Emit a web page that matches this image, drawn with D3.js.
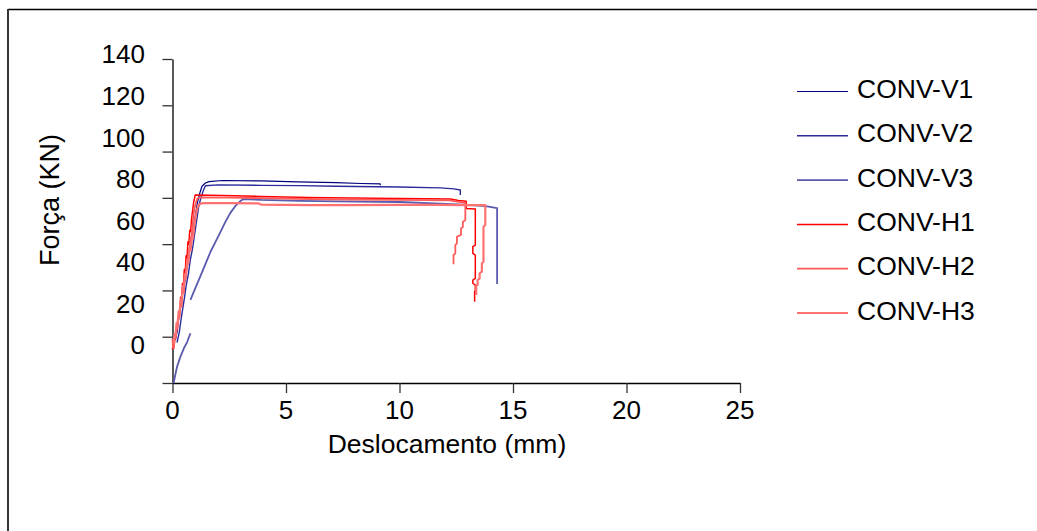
<!DOCTYPE html>
<html>
<head>
<meta charset="utf-8">
<script src="https://cdn.jsdelivr.net/npm/d3@7"></script>
<style>
  html, body { margin: 0; padding: 0; background: #fff; }
  svg { display: block; }
  text { font-family: Arial, "Liberation Sans", sans-serif; fill: #000; }
</style>
</head>
<body>
<svg id="chart" width="1037" height="531"></svg>
<script>
// Load-displacement curves: [displacement (mm), force (kN)]; null marks a gap in the record
const convV1 = [
  [0.13, 18.6], [0.2, 22], [0.26, 27], [0.33, 31], [0.4, 36], [0.48, 41], [0.57, 45],
  [0.64, 50], [0.72, 55], [0.8, 60], [0.9, 66], [1.0, 72], [1.1, 78], [1.2, 82],
  [1.3, 85], [1.45, 86.4], [1.6, 87.0], [2.2, 87.5], [3.9, 87.3], [5.5, 86.9],
  [7.2, 86.6], [8.3, 86.2], [9.15, 86.0], [9.15, 85.5]
];
const convV2 = [
  [0.2, 17.5], [0.3, 22], [0.37, 27], [0.45, 32], [0.53, 37], [0.6, 42], [0.7, 47],
  [0.78, 53], [0.88, 58], [0.97, 64], [1.06, 70], [1.15, 76], [1.25, 80], [1.35, 83],
  [1.45, 85.2], [2.0, 85.6], [3.9, 85.4], [5.6, 85.3], [7.2, 85.0], [10.0, 84.7],
  [11.8, 84.3], [12.4, 83.9], [12.68, 83.4], [12.68, 81.2]
];
const convV3 = [
  [0.05, 0], [0.08, 1.5], [0.2, 7], [0.35, 11.4], [0.5, 15], [0.65, 17.8], [0.79, 21.5],
  null,
  [0.79, 35.9], [1.01, 41.1], [1.23, 46.2], [1.45, 51.4], [1.67, 56.6], [1.89, 60.9],
  [2.11, 65.2], [2.33, 69.6], [2.55, 73.5], [2.77, 76.5], [2.99, 78.6], [3.13, 79.5],
  [3.9, 79.1], [5.6, 78.7], [7.2, 78.5], [10.0, 78.2], [11.8, 77.5], [13.3, 76.8],
  [13.8, 76.4], [14.3, 75.6], [14.3, 42.8]
];
const convH1 = [
  [0.0, 14.5], [0.03, 17.5], [0.08, 17.0], [0.12, 21], [0.16, 20.5], [0.2, 26],
  [0.25, 25.5], [0.28, 31], [0.32, 30], [0.36, 37], [0.4, 36], [0.44, 43], [0.48, 42],
  [0.52, 49], [0.56, 48], [0.6, 55], [0.64, 54], [0.68, 61], [0.72, 60], [0.76, 66],
  [0.8, 65.5], [0.84, 71], [0.88, 74], [0.93, 78], [1.0, 81.2], [2.2, 81.0],
  [3.9, 80.6], [6.0, 80.2], [7.8, 79.9], [10.0, 79.7], [12.24, 79.5], [12.6, 78.9],
  [12.94, 78.5], [12.94, 75.4], [13.34, 75.2], [13.34, 59.6], [13.23, 58.9],
  [13.23, 56.0], [13.34, 55.3], [13.34, 45.2], [13.23, 44.5], [13.23, 43.1],
  [13.34, 42.3], [13.34, 40.2], [13.31, 39.4], [13.31, 35.1]
];
const convH2 = [
  [0.0, 19], [0.02, 15.5], [0.06, 15], [0.1, 20], [0.14, 19.5], [0.18, 24], [0.22, 23.5],
  [0.27, 29], [0.31, 28.5], [0.36, 34], [0.4, 33], [0.45, 40], [0.5, 39], [0.54, 46],
  [0.58, 45], [0.63, 52], [0.67, 51], [0.72, 58], [0.76, 57], [0.8, 63], [0.84, 62.5],
  [0.88, 68], [0.93, 73], [0.98, 76], [1.05, 78.5], [1.1, 79.8], [1.3, 80.2],
  [2.5, 80.1], [3.9, 79.9], [6.0, 79.5], [7.8, 79.3], [10.0, 79.1], [12.2, 78.9],
  [12.6, 78.3], [12.9, 77.8], [12.9, 70.4], [12.79, 69.6], [12.79, 67.4],
  [12.71, 66.8], [12.71, 64.0], [12.53, 63.2], [12.53, 60.4], [12.46, 59.6],
  [12.46, 56.0], [12.38, 55.3], [12.38, 51.3]
];
const convH3 = [
  [0.05, 17], [0.09, 21], [0.13, 20], [0.18, 26], [0.22, 25], [0.27, 31], [0.31, 30],
  [0.36, 36], [0.4, 35.5], [0.46, 42], [0.5, 41], [0.55, 47], [0.6, 46.5], [0.65, 53],
  [0.7, 52], [0.75, 58], [0.8, 57.5], [0.86, 63], [0.9, 62.5], [0.96, 68], [1.02, 72],
  [1.08, 75], [1.15, 77], [1.3, 77.7], [2.5, 77.7], [3.8, 77.6], [3.9, 77.1],
  [6.0, 76.9], [7.8, 76.9], [10.0, 77.0], [11.8, 77.0], [13.0, 76.9], [13.78, 76.9],
  [13.78, 68.3], [13.70, 67.5], [13.70, 52.4], [13.63, 51.7], [13.63, 48.1],
  [13.53, 47.4], [13.53, 45.2], [13.44, 44.5], [13.44, 42.3], [13.38, 42.0], [13.38, 38.0]
];

const seriesNames = ["CONV-V1", "CONV-V2", "CONV-V3", "CONV-H1", "CONV-H2", "CONV-H3"];
const seriesData = [convV1, convV2, convV3, convH1, convH2, convH3];
const seriesColors = ["#000080", "#2b2b9c", "#5a5aae", "#ff0000", "#ff5a5a", "#ff7272"];
const seriesWidths = [1.2, 1.4, 1.8, 1.5, 1.8, 2.2];

const xTicks = [0, 5, 10, 15, 20, 25];
const yTicks = [0, 20, 40, 60, 80, 100, 120, 140];

const svg = d3.select("#chart");

// outer frame (left and top edges visible)
svg.append("line").attr("x1", 8).attr("y1", 9.5).attr("x2", 1037).attr("y2", 9.5)
  .attr("stroke", "#000").attr("stroke-width", 1.5);
svg.append("line").attr("x1", 8).attr("y1", 9).attr("x2", 8).attr("y2", 531)
  .attr("stroke", "#333").attr("stroke-width", 2);

const x = d3.scaleLinear().domain([0, 25]).range([172.5, 740]);
const y = d3.scaleLinear().domain([0, 140]).range([383, 59]);
// tick labels sit on a slightly tighter spacing than the tick marks
const yLabel = d3.scaleLinear().domain([0, 140]).range([345, 54]);

// x axis
const xAxis = svg.append("g").attr("transform", "translate(0,383)")
  .call(d3.axisBottom(x).tickValues(xTicks).tickSize(10).tickSizeOuter(0).tickFormat(""));
xAxis.select(".domain").attr("stroke", "#000").attr("stroke-width", 1.3);
xAxis.selectAll(".tick line").attr("stroke", "#333").attr("stroke-width", 1.3);
svg.append("g").selectAll("text").data(xTicks).join("text")
  .attr("x", d => x(d)).attr("y", 419)
  .attr("text-anchor", "middle").attr("font-size", 26)
  .text(d => d);

// y axis
const yAxis = svg.append("g").attr("transform", "translate(172.5,0)")
  .call(d3.axisLeft(y).tickValues(yTicks).tickSize(10).tickSizeOuter(0).tickFormat(""));
yAxis.select(".domain").attr("stroke", "#000").attr("stroke-width", 1.3);
yAxis.selectAll(".tick line").attr("stroke", "#333").attr("stroke-width", 1.3);
svg.append("g").selectAll("text").data(yTicks).join("text")
  .attr("x", 145).attr("y", d => yLabel(d)).attr("dy", "0.36em")
  .attr("text-anchor", "end").attr("font-size", 26)
  .text(d => d);

// axis titles
svg.append("text").attr("x", 447).attr("y", 453)
  .attr("text-anchor", "middle").attr("font-size", 26.5)
  .text("Deslocamento (mm)");
svg.append("text").attr("transform", "translate(59,200) rotate(-90)")
  .attr("text-anchor", "middle").attr("font-size", 27)
  .text("Força (KN)");

// curves
const line = d3.line()
  .defined(d => d !== null)
  .x(d => x(d[0]))
  .y(d => y(d[1]));

svg.append("g").selectAll("path").data(seriesData).join("path")
  .attr("d", line)
  .attr("fill", "none")
  .attr("stroke", (d, i) => seriesColors[i])
  .attr("stroke-width", (d, i) => seriesWidths[i])
  .attr("stroke-linejoin", "round");

// legend
const legend = svg.append("g").selectAll("g").data(seriesNames).join("g")
  .attr("transform", (d, i) => `translate(797,${91.5 + i * 44.3})`);
legend.append("line").attr("x1", 0).attr("x2", 51).attr("y1", 0).attr("y2", 0)
  .attr("stroke", (d, i) => seriesColors[i])
  .attr("stroke-width", (d, i) => seriesWidths[i]);
legend.append("text").attr("x", 60).attr("y", 6.5).attr("font-size", 26.5)
  .text(d => d);
</script>
</body>
</html>
